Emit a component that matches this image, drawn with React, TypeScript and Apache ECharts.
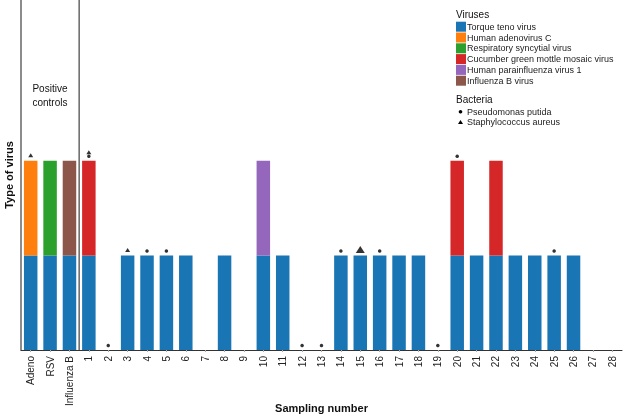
import React, { useEffect, useRef } from "react";
import * as echarts from "echarts";

const categories = ["Adeno", "RSV", "Influenza B", "1", "2", "3", "4", "5", "6", "7", "8", "9", "10", "11", "12", "13", "14", "15", "16", "17", "18", "19", "20", "21", "22", "23", "24", "25", "26", "27", "28"];

const ttvSamples = ["Adeno", "RSV", "Influenza B", "1", "3", "4", "5", "6", "8", "10", "11", "14", "15", "16", "17", "18", "20", "21", "22", "23", "24", "25", "26"];
const adenoSamples = ["Adeno"];
const rsvSamples = ["RSV"];
const cgmmvSamples = ["1", "20", "22"];
const hpivSamples = ["10"];
const infBSamples = ["Influenza B"];

const pseudomonasSamples = ["1", "2", "4", "5", "12", "13", "14", "16", "19", "20", "25"];
const staphSamples = ["Adeno", "1", "3", "15"];
const staphLargeSamples = ["15"];

const controlCategories = ["Adeno", "RSV", "Influenza B"];

const viruses = [
  { name: "Torque teno virus", samples: ttvSamples, color: "#1a75b4" },
  { name: "Human adenovirus C", samples: adenoSamples, color: "#ff7f0e" },
  { name: "Respiratory syncytial virus", samples: rsvSamples, color: "#2ca02c" },
  { name: "Cucumber green mottle mosaic virus", samples: cgmmvSamples, color: "#d62728" },
  { name: "Human parainfluenza virus 1", samples: hpivSamples, color: "#9467bd" },
  { name: "Influenza B virus", samples: infBSamples, color: "#8c564b" },
];

const bacteria = [
  { name: "Pseudomonas putida", symbol: "circle" },
  { name: "Staphylococcus aureus", symbol: "triangle" },
];

const FONT = "'Liberation Sans', Arial, Helvetica, sans-serif";

export default function App() {
  const ref = useRef<HTMLDivElement>(null);
  useEffect(() => {
    if (!ref.current) return;
    const chart = echarts.init(ref.current, undefined, { renderer: "svg" });

    const height = (c: string) => viruses.reduce((s, v) => s + (v.samples.includes(c) ? 1 : 0), 0);

    const barSeries = viruses.map((v) => ({
      type: "bar",
      name: v.name,
      stack: "v",
      barWidth: 13.5,
      itemStyle: { color: v.color },
      data: categories.map((c) => (v.samples.includes(c) ? 1 : "-")),
    }));

    const dotData = pseudomonasSamples.map((c) => ({
      value: [c, height(c)],
      symbolOffset: [0, -4.5],
    }));
    const triData = staphSamples.map((c) => {
      const big = staphLargeSamples.includes(c);
      const withDot = pseudomonasSamples.includes(c);
      return {
        value: [c, height(c)],
        symbolSize: big ? [9, 7] : [5, 4],
        symbolOffset: [0, big ? -6 : withDot ? -8.5 : -5.5],
      };
    });

    const legendX = 456;
    const legendTop = 21.7;
    const rowH = 10.8;
    const legendGraphics: any[] = [
      { type: "text", left: legendX, top: 9, style: { text: "Viruses", fontSize: 10, fill: "#111", fontFamily: FONT } },
    ];
    viruses.forEach((v, i) => {
      const y = legendTop + i * rowH;
      legendGraphics.push({ type: "rect", shape: { x: legendX, y, width: 10, height: 10 }, style: { fill: v.color } });
      legendGraphics.push({
        type: "text",
        x: legendX + 11,
        y: y + 5,
        style: { text: v.name, fontSize: 9, fill: "#222", verticalAlign: "middle", fontFamily: FONT },
      });
    });
    const bTitleTop = 94;
    legendGraphics.push({ type: "text", left: legendX, top: bTitleTop, style: { text: "Bacteria", fontSize: 10, fill: "#111", fontFamily: FONT } });
    bacteria.forEach((b, i) => {
      const cy = 111.7 + i * 10.5;
      if (b.symbol === "circle") {
        legendGraphics.push({ type: "circle", shape: { cx: legendX + 4.5, cy, r: 1.8 }, style: { fill: "#000" } });
      } else {
        legendGraphics.push({
          type: "polygon",
          shape: { points: [[legendX + 4.5, cy - 2.2], [legendX + 7, cy + 1.8], [legendX + 2, cy + 1.8]] },
          style: { fill: "#000" },
        });
      }
      legendGraphics.push({
        type: "text",
        x: legendX + 11,
        y: cy,
        style: { text: b.name, fontSize: 9, fill: "#222", verticalAlign: "middle", fontFamily: FONT },
      });
    });

    const baseOption: any = {
      animation: false,
      textStyle: { fontFamily: FONT },
      grid: { left: 21, right: 3, top: 0, bottom: 66, containLabel: false, outerBoundsMode: "none" },
      xAxis: {
        type: "category",
        data: categories,
        name: "Sampling number",
        nameLocation: "middle",
        nameGap: 52,
        nameMoveOverlap: false,
        nameTextStyle: { fontSize: 11, fontWeight: "bold", color: "#111", fontFamily: FONT },
        axisLine: { lineStyle: { color: "#333", width: 1 } },
        axisTick: { show: true, alignWithLabel: true, length: 2, lineStyle: { color: "#aaa" } },
        axisLabel: { interval: 0, rotate: 90, fontSize: 10, color: "#222", margin: 6, fontFamily: FONT },
        splitLine: { show: false },
      },
      yAxis: {
        type: "value",
        min: 0,
        max: 3.7,
        name: "Type of virus",
        nameLocation: "middle",
        nameGap: 7,
        nameMoveOverlap: false,
        nameTextStyle: { fontSize: 11, fontWeight: "bold", color: "#111", fontFamily: FONT },
        axisLine: { show: true, lineStyle: { color: "#666", width: 1.5 } },
        axisTick: { show: false },
        axisLabel: { show: false },
        splitLine: { show: false },
      },
      series: [
        ...barSeries,
        {
          type: "scatter",
          name: "Pseudomonas putida",
          symbol: "circle",
          symbolSize: 3.5,
          itemStyle: { color: "#000" },
          data: dotData,
          z: 5,
        },
        {
          type: "scatter",
          name: "Staphylococcus aureus",
          symbol: "triangle",
          itemStyle: { color: "#000" },
          data: triData,
          z: 5,
        },
      ],
    };
    chart.setOption(baseOption);

    const lastControl = controlCategories[controlCategories.length - 1];
    const firstSample = categories[controlCategories.length];
    const xa = chart.convertToPixel({ xAxisIndex: 0 }, lastControl) as number;
    const xb = chart.convertToPixel({ xAxisIndex: 0 }, firstSample) as number;
    const sepX = (xa + xb) / 2;
    const yTop = chart.convertToPixel({ yAxisIndex: 0 }, 3.7) as number;
    const yBot = chart.convertToPixel({ yAxisIndex: 0 }, 0) as number;
    const ctrlLeft = chart.convertToPixel({ xAxisIndex: 0 }, controlCategories[0]) as number;

    chart.setOption({
      graphic: [
        ...legendGraphics,
        {
          type: "line",
          shape: { x1: sepX, y1: yTop, x2: sepX, y2: yBot },
          style: { stroke: "#666", lineWidth: 1.5 },
          z: 10,
        },
        {
          type: "text",
          x: (ctrlLeft - 10 + sepX) / 2,
          y: 95,
          style: {
            text: "Positive\ncontrols",
            fontSize: 10,
            lineHeight: 14,
            align: "center",
            verticalAlign: "middle",
            fill: "#111",
            fontFamily: FONT,
          },
        },
      ],
    });
    return () => chart.dispose();
  }, []);
  return <div ref={ref} style={{ position: "fixed", left: 0, top: 0, width: 625, height: 416 }} />;
}
